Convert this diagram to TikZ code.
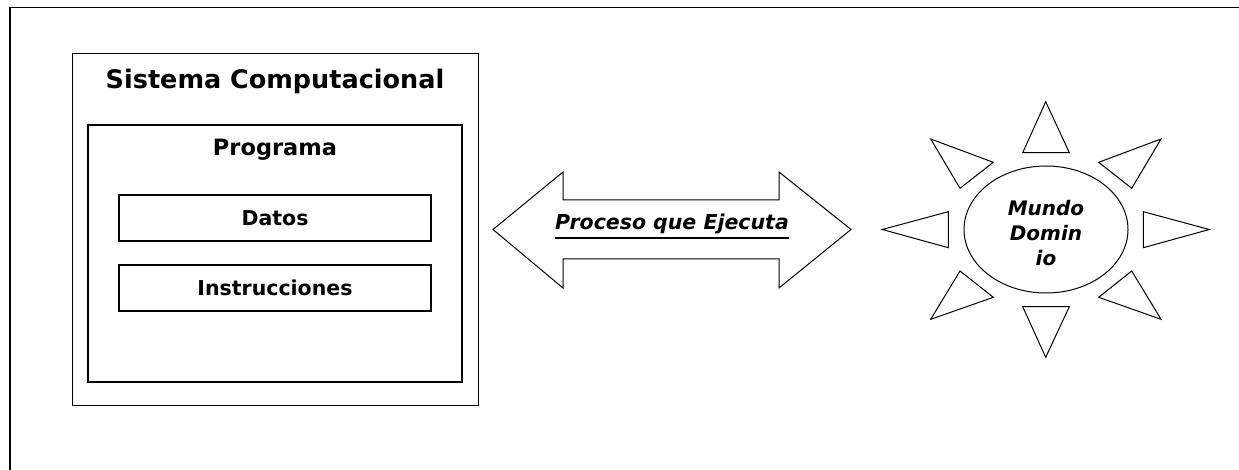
\documentclass[tikz,border=0pt]{standalone}
\usepackage{fontspec}
\setmainfont{DejaVu Sans}
\usetikzlibrary{shapes.geometric}
\begin{document}
\begin{tikzpicture}[x=1pt,y=-1pt,
  thinline/.style={draw=black,line width=1pt},
  boxtxt/.style={font=\bfseries\fontsize{20.5}{24}\selectfont},
  ray/.style={draw=black,line width=1pt,line join=miter}]
\useasboundingbox (0,0) rectangle (1239,470);
% outer frame (cut at right and bottom)
\draw[line width=1.6pt] (10,471) -- (10,7.5) -- (1240,7.5);
% Sistema Computacional
\draw[thinline] (72,54) rectangle (478,405);
\node[font=\bfseries\fontsize{25.5}{30}\selectfont] (sis) at (275,81) {Sistema Computacional};
% Programa
\draw[line width=2pt] (88,125) rectangle (462,382);
\node[font=\bfseries\fontsize{22.5}{26}\selectfont] (prog) at (275,150) {Programa};
% Datos / Instrucciones
\node[boxtxt,draw,line width=1.6pt,minimum width=312pt,minimum height=46pt,inner sep=0pt] (datos) at (275,218) {Datos};
\node[boxtxt,draw,line width=1.6pt,minimum width=312pt,minimum height=46pt,inner sep=0pt] (instr) at (275,288) {Instrucciones};
% double arrow
\draw[thinline,line join=miter] (493,229.5) -- (563,172) -- (563,200) -- (779,200) -- (779,172) -- (851,229.5) -- (779,288) -- (779,259) -- (563,259) -- (563,288) -- cycle;
\node[font=\bfseries\itshape\fontsize{20.5}{24}\selectfont,inner sep=0pt] (proc) at (672,224) {Proceso que Ejecuta};
\draw[line width=2pt] ([yshift=-4pt]proc.south west) -- ([yshift=-4pt]proc.south east);
% sun
\node[ellipse,draw,line width=1pt,minimum width=164pt,minimum height=127pt,inner sep=0pt] (mundo) at (1046,229.5) {};
\node[font=\bfseries\itshape\fontsize{20}{25}\selectfont,align=center] (mtxt) at (1046,233) {Mundo\\Domin\\io};
\draw[ray] (1045.7,101.7) -- (1022.7,152.7) -- (1069.3,152.7) -- cycle;
\draw[ray] (1045.7,357.3) -- (1022.7,306.7) -- (1069.3,306.7) -- cycle;
\draw[ray] (882.3,229.5) -- (948.3,211.7) -- (948.3,247.7) -- cycle;
\draw[ray] (1209.3,229.5) -- (1143.3,211.7) -- (1143.3,247.7) -- cycle;
\draw[ray] (930.7,139) -- (993.3,162.3) -- (960,188.3) -- cycle;
\draw[ray] (1161,139) -- (1098.7,162.3) -- (1131.7,188.3) -- cycle;
\draw[ray] (930.7,319.3) -- (993.3,297.3) -- (960,271) -- cycle;
\draw[ray] (1161,319.3) -- (1098.7,297.3) -- (1131.7,271) -- cycle;
\end{tikzpicture}
\end{document}
